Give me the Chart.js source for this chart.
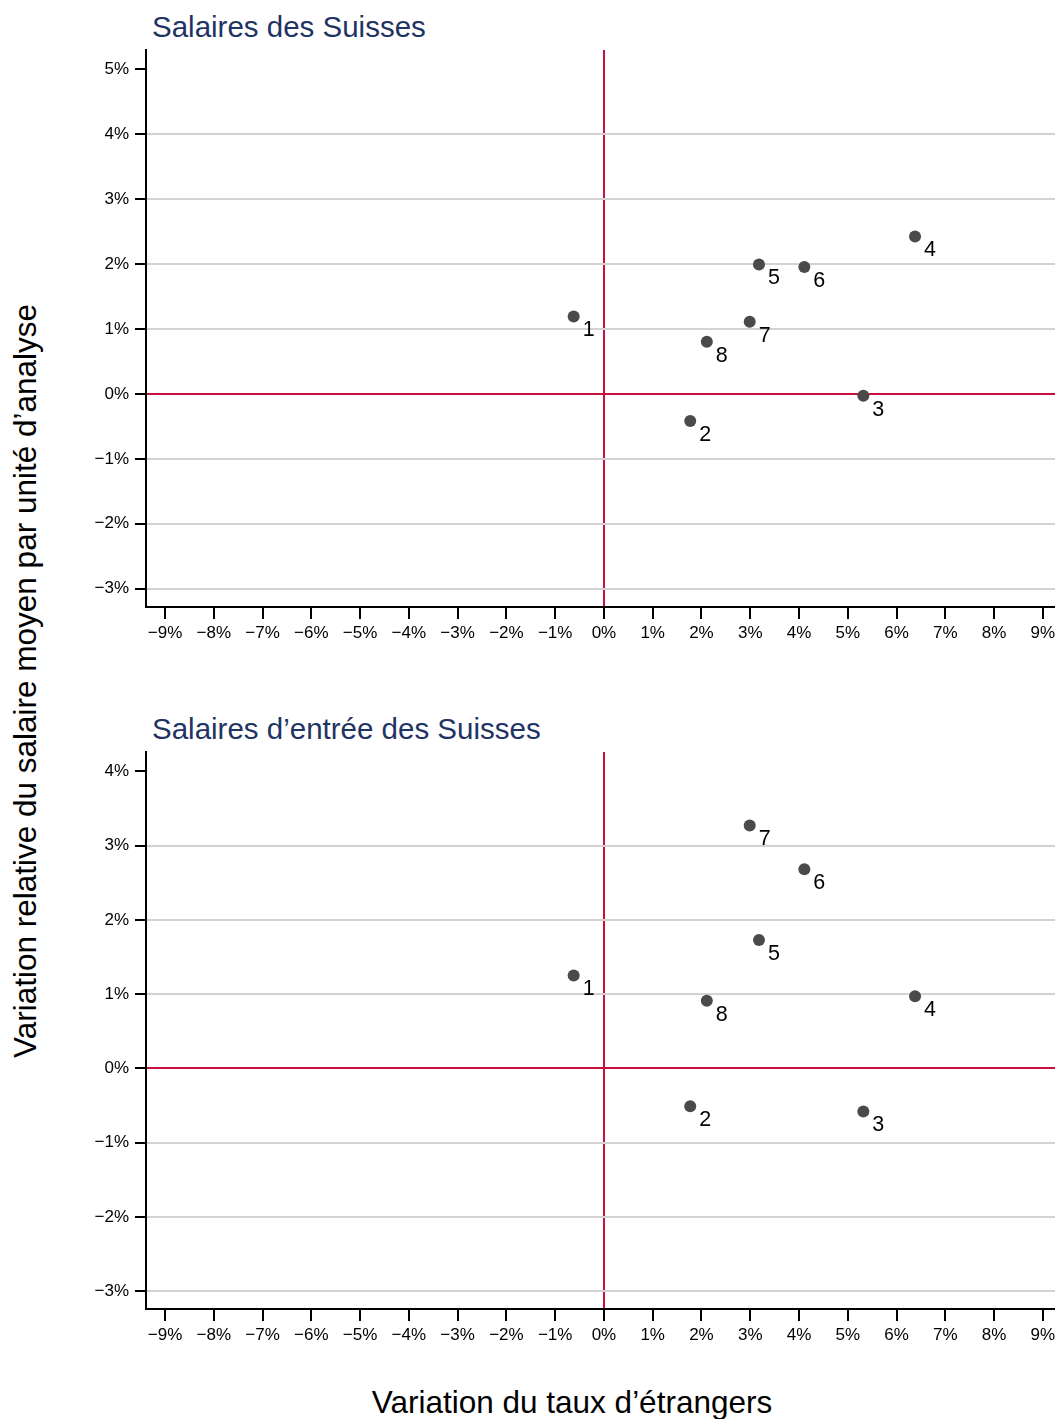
<!DOCTYPE html>
<html>
<head>
<meta charset="utf-8">
<script src="https://cdn.jsdelivr.net/npm/chart.js@4.4.1/dist/chart.umd.min.js"></script>
<style>
  body { margin: 0; background: #fff; width: 1055px; height: 1419px; position: relative; overflow: hidden; font-family: "Liberation Sans", Arial, sans-serif; }
  .bloc { position: absolute; left: 60px; width: 1001px; height: 652px; }
  .titre { position: absolute; left: 152px; font-size: 29.5px; color: #1f3464; white-space: nowrap; line-height: 1; }
  #titre-y { position: absolute; left: 25px; top: 681px; transform: translate(-50%, -50%) rotate(-90deg); font-size: 31.5px; white-space: nowrap; color: #000; }
  #titre-x { position: absolute; left: 572px; top: 1402px; transform: translate(-50%, -50%); font-size: 31.5px; white-space: nowrap; color: #000; }
</style>
</head>
<body>
<div class="titre" style="top:12px">Salaires des Suisses</div>
<div class="titre" style="top:714px">Salaires d’entrée des Suisses</div>
<div id="titre-y">Variation relative du salaire moyen par unité d’analyse</div>
<div id="titre-x">Variation du taux d’étrangers</div>
<div class="bloc" style="top:0"><canvas id="graphHaut"></canvas></div>
<div class="bloc" style="top:702px"><canvas id="graphBas"></canvas></div>

<script>
// ==========================================================
// DONNÉES
// ==========================================================
const etiquettesPoints = ["1", "2", "3", "4", "5", "6", "7", "8"];
const variationEtrangers = [-0.62, 1.77, 5.32, 6.38, 3.18, 4.11, 2.99, 2.11];
const salairesSuisses = [1.19, -0.42, -0.03, 2.42, 1.99, 1.95, 1.11, 0.80];
const salairesEntree = [1.25, -0.51, -0.58, 0.97, 1.73, 2.68, 3.27, 0.91];

const ticksX = [-9, -8, -7, -6, -5, -4, -3, -2, -1, 0, 1, 2, 3, 4, 5, 6, 7, 8, 9];
const ticksYHaut = [-3, -2, -1, 0, 1, 2, 3, 4, 5];
const ticksYBas = [-3, -2, -1, 0, 1, 2, 3, 4];

const ROUGE = "#c8103c";
const GRIS = "#d3d3d3";
const POLICE = "'Liberation Sans', Arial, sans-serif";

const formatPct = v => (v < 0 ? "\u2212" + Math.abs(v) : v) + "%";

// Étiquettes numérotées à côté des points
const pluginEtiquettes = {
  id: "etiquettes",
  afterDatasetsDraw(chart) {
    const ctx = chart.ctx;
    const meta = chart.getDatasetMeta(0);
    ctx.save();
    ctx.font = "21.5px " + POLICE;
    ctx.fillStyle = "#000";
    ctx.textAlign = "center";
    ctx.textBaseline = "middle";
    meta.data.forEach((pt, i) => {
      ctx.fillText(etiquettesPoints[i], pt.x + 15, pt.y + 14);
    });
    ctx.restore();
  }
};

function creerGraphique(idCanvas, valeursY, ticksY, minY, maxY) {
  const haut = ticksY[ticksY.length - 1];
  return new Chart(document.getElementById(idCanvas), {
    type: "scatter",
    data: {
      datasets: [{
        data: variationEtrangers.map((x, i) => ({ x: x, y: valeursY[i] })),
        backgroundColor: "#4a4a4a",
        borderWidth: 0,
        pointRadius: 6,
        pointHoverRadius: 6
      }]
    },
    options: {
      responsive: true,
      maintainAspectRatio: false,
      animation: false,
      events: [],
      layout: { padding: { top: 50, left: 0, right: 0, bottom: 0 } },
      plugins: { legend: { display: false }, tooltip: { enabled: false } },
      scales: {
        x: {
          type: "linear",
          min: -9.39,
          max: 9.25,
          afterBuildTicks: s => { s.ticks = ticksX.map(v => ({ value: v })); },
          afterFit: s => { s.height = 45; s.paddingLeft = 0; s.paddingRight = 0; },
          border: { display: true, color: "#000", width: 2 },
          grid: {
            drawOnChartArea: true,
            drawTicks: true,
            tickLength: 12,
            tickColor: "#000",
            tickWidth: 2,
            color: c => (c.tick && c.tick.value === 0 ? ROUGE : "rgba(0,0,0,0)"),
            lineWidth: 2
          },
          ticks: {
            autoSkip: false,
            maxRotation: 0,
            padding: 4,
            color: "#000",
            font: { size: 17, family: POLICE },
            callback: v => formatPct(v)
          }
        },
        y: {
          type: "linear",
          min: minY,
          max: maxY,
          afterBuildTicks: s => { s.ticks = ticksY.map(v => ({ value: v })); },
          afterFit: s => { s.width = 86; s.paddingTop = 0; s.paddingBottom = 0; },
          border: { display: true, color: "#000", width: 2 },
          grid: {
            drawOnChartArea: true,
            drawTicks: true,
            tickLength: 11,
            tickColor: "#000",
            tickWidth: 2,
            color: c => {
              if (!c.tick) return GRIS;
              if (c.tick.value === 0) return ROUGE;
              if (c.tick.value === haut) return "rgba(0,0,0,0)";
              return GRIS;
            },
            lineWidth: 2
          },
          ticks: {
            autoSkip: false,
            padding: 6,
            color: "#000",
            font: { size: 17, family: POLICE },
            callback: v => formatPct(v)
          }
        }
      }
    },
    plugins: [pluginEtiquettes]
  });
}

document.addEventListener("DOMContentLoaded", () => {
  creerGraphique("graphHaut", salairesSuisses, ticksYHaut, -3.28, 5.29);
  creerGraphique("graphBas", salairesEntree, ticksYBas, -3.24, 4.26);
});
</script>
</body>
</html>
